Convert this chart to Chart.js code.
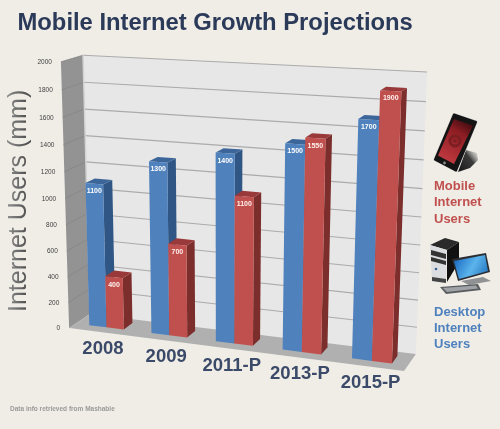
<!DOCTYPE html>
<html>
<head>
<meta charset="utf-8">
<title>Mobile Internet Growth Projections</title>
<script src="https://cdn.jsdelivr.net/npm/chart.js@4"></script>
<style>
  html, body { margin: 0; padding: 0; background: #f0ede7; }
  canvas { display: block; }
</style>
</head>
<body>
<canvas id="myChart" width="500" height="429"></canvas>
<script>
const categories = ['2008', '2009', '2011-P', '2013-P', '2015-P'];
const desktopUsers = [1100, 1300, 1400, 1500, 1700];
const mobileUsers = [400, 700, 1100, 1550, 1900];
const axisMax = 2000;
const axisStep = 200;

// where the corners of the plot box land on screen: [u, v, depth, screenX, screenY]
const boxCorners = [
  [0, 0, 0, 70, 327], [1, 0, 0, 404, 372], [0, 0, 1, 89, 315], [1, 0, 1, 416, 353],
  [0, 1, 1, 84, 55], [1, 1, 1, 427, 72], [0, 1, 0, 60, 62]
];
const barFront = 0.32;
const barBack = 0.76;

const faces = [
  { front: '#4f81bd', side: '#2f5684', top: '#3c6699', label: '#ffffff' },
  { front: '#c0504d', side: '#7b2e2c', top: '#99393a', label: '#fff1ee' }
];

// least squares fit of the 3D -> 2D projection matrix
function fitProjection(points) {
  const n = 11;
  const A = [];
  for (let i = 0; i < n; i++) A.push(new Array(n + 1).fill(0));
  function addRow(row, rhs) {
    for (let i = 0; i < n; i++) {
      for (let j = 0; j < n; j++) A[i][j] += row[i] * row[j];
      A[i][n] += row[i] * rhs;
    }
  }
  points.forEach(([u, v, d, x, y]) => {
    addRow([u, v, d, 1, 0, 0, 0, 0, -x * u, -x * v, -x * d], x);
    addRow([0, 0, 0, 0, u, v, d, 1, -y * u, -y * v, -y * d], y);
  });
  for (let c = 0; c < n; c++) {
    let pivot = c;
    for (let r = c + 1; r < n; r++) if (Math.abs(A[r][c]) > Math.abs(A[pivot][c])) pivot = r;
    [A[c], A[pivot]] = [A[pivot], A[c]];
    for (let r = 0; r < n; r++) {
      if (r === c) continue;
      const f = A[r][c] / A[c][c];
      for (let k = c; k <= n; k++) A[r][k] -= f * A[c][k];
    }
  }
  return A.map((row, i) => row[n] / row[i]);
}

const P = fitProjection(boxCorners);

function project(u, v, d) {
  const w = P[8] * u + P[9] * v + P[10] * d + 1;
  return {
    x: (P[0] * u + P[1] * v + P[2] * d + P[3]) / w,
    y: (P[4] * u + P[5] * v + P[6] * d + P[7]) / w
  };
}

function poly(ctx, pts, fill) {
  ctx.beginPath();
  pts.forEach((p, i) => i ? ctx.lineTo(p.x, p.y) : ctx.moveTo(p.x, p.y));
  ctx.closePath();
  ctx.fillStyle = fill;
  ctx.fill();
}

function path(ctx, coords, fill) {
  poly(ctx, coords.map(c => ({ x: c[0], y: c[1] })), fill);
}

function line(ctx, a, b, color, width) {
  ctx.beginPath();
  ctx.moveTo(a.x, a.y);
  ctx.lineTo(b.x, b.y);
  ctx.strokeStyle = color;
  ctx.lineWidth = width;
  ctx.stroke();
}

function drawBox(ctx, chart) {
  poly(ctx, [project(0, 0, 1), project(1, 0, 1), project(1, 1, 1), project(0, 1, 1)], '#e7e7e7');
  poly(ctx, [project(0, 0, 0), project(0, 0, 1), project(0, 1, 1), project(0, 1, 0)], '#939393');
  poly(ctx, [project(0, 0, 0), project(1, 0, 0), project(1, 0, 1), project(0, 0, 1)], '#b0b0b0');

  const yScale = chart.scales.y;
  yScale.ticks.forEach(tick => {
    const v = tick.value / axisMax;
    if (tick.value > 0) {
      line(ctx, project(0, v, 1), project(1, v, 1), '#ababab', 1.1);
      line(ctx, project(0, v, 0), project(0, v, 1), '#858585', 0.8);
    }
  });
  line(ctx, project(0, 0, 1), project(0, 1, 1), '#d4d4d4', 1.5);
}

function drawBar(ctx, chart, el, style) {
  const area = chart.chartArea;
  const u0 = (el.x - el.width / 2 - area.left) / area.width;
  const u1 = (el.x + el.width / 2 - area.left) / area.width;
  const v1 = (area.bottom - el.y) / area.height;
  const v0 = (area.bottom - el.base) / area.height;

  poly(ctx, [project(u1, v0, barFront), project(u1, v0, barBack), project(u1, v1, barBack), project(u1, v1, barFront)], style.side);
  poly(ctx, [project(u0, v1, barFront), project(u1, v1, barFront), project(u1, v1, barBack), project(u0, v1, barBack)], style.top);
  poly(ctx, [project(u0, v0, barFront), project(u1, v0, barFront), project(u1, v1, barFront), project(u0, v1, barFront)], style.front);
}

function drawBarLabel(ctx, chart, el, value, style) {
  const area = chart.chartArea;
  const u = (el.x - area.left) / area.width;
  const v = (area.bottom - el.y) / area.height;
  const p = project(u, v, barFront);
  ctx.font = 'bold 7px "Liberation Sans"';
  ctx.fillStyle = style.label;
  ctx.textAlign = 'center';
  ctx.textBaseline = 'middle';
  ctx.fillText(String(value), p.x, p.y + 7.5);
}

function drawAxisLabels(ctx, chart) {
  const yScale = chart.scales.y;
  const xScale = chart.scales.x;
  const area = chart.chartArea;

  ctx.font = '6.5px "Liberation Sans"';
  ctx.fillStyle = '#3f3f3f';
  ctx.textAlign = 'right';
  ctx.textBaseline = 'middle';
  yScale.ticks.forEach(tick => {
    const p = project(0, tick.value / axisMax, 0);
    ctx.fillText(String(tick.value), p.x - 9, p.y + 0.5);
  });

  ctx.font = 'bold 18.5px "Liberation Sans"';
  ctx.fillStyle = '#3b4a68';
  ctx.textAlign = 'center';
  categories.forEach((label, i) => {
    const u = (xScale.getPixelForValue(i) - area.left) / area.width;
    const p = project(u, 0, 0);
    ctx.fillText(label, p.x + 3, p.y + 17);
  });

  // value axis title, darker towards the baseline of the letters
  ctx.save();
  ctx.translate(26, 312);
  ctx.rotate(-Math.PI / 2);
  ctx.font = '25px "Liberation Sans"';
  const shade = ctx.createLinearGradient(0, -18, 0, 1);
  shade.addColorStop(0, '#8b8b8b');
  shade.addColorStop(1, '#505050');
  ctx.fillStyle = shade;
  ctx.textAlign = 'left';
  ctx.textBaseline = 'alphabetic';
  ctx.fillText('Internet Users (mm)', 0, 0);
  ctx.restore();
}

function drawKey(ctx) {
  ctx.font = 'bold 13px "Liberation Sans"';
  ctx.textAlign = 'left';
  ctx.textBaseline = 'middle';
  ctx.fillStyle = '#c0504d';
  ['Mobile', 'Internet', 'Users'].forEach((t, i) => ctx.fillText(t, 434, 186 + i * 16.5));
  ctx.fillStyle = '#4f81bd';
  ['Desktop', 'Internet', 'Users'].forEach((t, i) => ctx.fillText(t, 434, 312 + i * 16));

  ctx.font = 'bold 6.5px "Liberation Sans"';
  ctx.fillStyle = '#9a9a9a';
  ctx.fillText('Data info retrieved from Mashable', 10, 409.5);
}

function drawPhone(ctx) {
  // shadow under the handset
  const shade = ctx.createLinearGradient(455, 168, 478, 150);
  shade.addColorStop(0, '#161616');
  shade.addColorStop(0.6, '#3a3a3a');
  shade.addColorStop(1, 'rgba(150,150,150,0)');
  path(ctx, [[458, 172], [466, 150], [477, 153], [478, 160], [470, 168]], shade);

  ctx.lineJoin = 'round';
  ctx.lineWidth = 3;
  ctx.strokeStyle = '#c9c9c9';
  ctx.beginPath();
  ctx.moveTo(454, 114.5);
  ctx.lineTo(476, 122);
  ctx.lineTo(456, 170.5);
  ctx.lineTo(435, 159.5);
  ctx.closePath();
  ctx.stroke();
  ctx.lineWidth = 2;
  ctx.strokeStyle = '#141414';
  ctx.stroke();
  path(ctx, [[454, 114.5], [476, 122], [456, 170.5], [435, 159.5]], '#141414');

  const screen = ctx.createLinearGradient(466, 120, 442, 160);
  screen.addColorStop(0, '#3d0c10');
  screen.addColorStop(0.3, '#8c1d23');
  screen.addColorStop(1, '#c03a40');
  path(ctx, [[454, 119], [473, 125.5], [454, 164], [438, 155.5]], screen);

  // handset glyph on the screen
  ctx.strokeStyle = '#7c1e22';
  ctx.lineWidth = 3;
  ctx.beginPath();
  ctx.arc(455, 141, 5, 0, Math.PI * 2);
  ctx.stroke();
  ctx.fillStyle = '#7c1e22';
  ctx.beginPath();
  ctx.arc(455, 141, 1.8, 0, Math.PI * 2);
  ctx.fill();

  ctx.fillStyle = '#888888';
  ctx.beginPath();
  ctx.arc(444.5, 163, 1.4, 0, Math.PI * 2);
  ctx.fill();
}

function drawComputer(ctx) {
  // tower
  path(ctx, [[430, 245], [445, 238], [459, 242], [447, 250]], '#2a2a2a');
  path(ctx, [[447, 250], [459, 242], [459, 262], [447, 282]], '#111111');
  path(ctx, [[430, 245], [447, 250], [446, 283], [432, 281]], '#dcdde0');
  path(ctx, [[431, 250], [446, 254], [446, 259], [431, 255]], '#333333');
  path(ctx, [[431, 257], [446, 261], [446, 265], [431, 261]], '#333333');
  path(ctx, [[432, 277], [446, 279], [446, 283], [432, 281]], '#444444');
  ctx.fillStyle = '#3a5f95';
  ctx.beginPath();
  ctx.arc(436, 269, 1.3, 0, Math.PI * 2);
  ctx.fill();

  // monitor
  path(ctx, [[452, 259], [486, 253], [490, 272], [458, 281]], '#2b2d33');
  const screen = ctx.createLinearGradient(455, 260, 488, 278);
  screen.addColorStop(0, '#1c6fc4');
  screen.addColorStop(0.5, '#5cb4ec');
  screen.addColorStop(1, '#1f6fb8');
  path(ctx, [[454, 261], [485, 255], [488, 271], [459, 279]], screen);
  path(ctx, [[461, 281], [483, 277], [491, 281], [469, 285]], '#8f9193');

  // keyboard
  path(ctx, [[440, 287], [478, 284], [481, 290], [446, 294]], '#5a5d60');
  path(ctx, [[443, 288], [476, 285.5], [478, 288.5], [447, 292]], '#a0a3a6');
}

const scene3d = {
  id: 'scene3d',
  // the bars are projected by hand, so the flat default drawing is skipped
  beforeDatasetsDraw(chart) {
    const ctx = chart.ctx;
    ctx.save();
    drawBox(ctx, chart);
    categories.forEach((c, i) => {
      chart.data.datasets.forEach((ds, k) => {
        drawBar(ctx, chart, chart.getDatasetMeta(k).data[i], faces[k]);
      });
    });
    categories.forEach((c, i) => {
      chart.data.datasets.forEach((ds, k) => {
        drawBarLabel(ctx, chart, chart.getDatasetMeta(k).data[i], ds.data[i], faces[k]);
      });
    });
    drawAxisLabels(ctx, chart);
    drawKey(ctx);
    drawPhone(ctx);
    drawComputer(ctx);
    ctx.restore();
    return false;
  }
};

const element = document.getElementById('myChart').getContext('2d');
const titleColor = element.createLinearGradient(0, 10, 0, 34);
titleColor.addColorStop(0, '#2a3a58');
titleColor.addColorStop(0.6, '#42557a');
titleColor.addColorStop(1, '#2f3f5e');

new Chart(element, {
  type: 'bar',
  data: {
    labels: categories,
    datasets: [
      { label: 'Desktop Internet Users', data: desktopUsers, backgroundColor: faces[0].front },
      { label: 'Mobile Internet Users', data: mobileUsers, backgroundColor: faces[1].front }
    ]
  },
  options: {
    responsive: false,
    animation: false,
    layout: { padding: { left: 17.5, right: 20, bottom: 20 } },
    datasets: { bar: { categoryPercentage: 0.56, barPercentage: 1 } },
    scales: {
      x: { display: false },
      y: { display: false, min: 0, max: axisMax, ticks: { stepSize: axisStep } }
    },
    plugins: {
      legend: { display: false },
      tooltip: { enabled: false },
      title: {
        display: true,
        text: 'Mobile Internet Growth Projections',
        align: 'start',
        color: titleColor,
        font: { family: '"Liberation Sans"', size: 23.8, weight: 'bold' },
        padding: { top: 9, bottom: 8 }
      }
    }
  },
  plugins: [scene3d]
});
</script>
</body>
</html>
